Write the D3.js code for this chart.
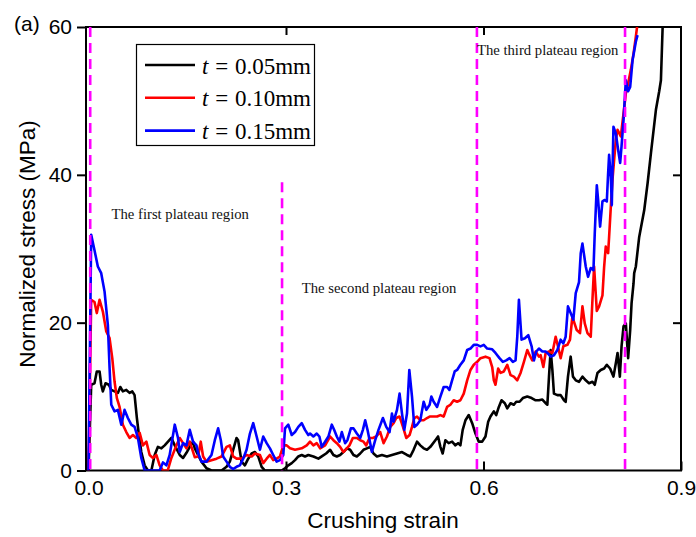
<!DOCTYPE html>
<html>
<head>
<meta charset="utf-8">
<script src="https://cdn.jsdelivr.net/npm/d3@7"></script>
<style>
  body { margin: 0; background: #fff; }
  svg { display: block; }
</style>
</head>
<body>
<div id="chart"></div>
<script>
// curves: [crushing strain, normalized stress (MPa)]
var t005 = [[0,0],[0.0041,11.6],[0.0091,11.8],[0.0126,13.4],[0.0168,13.4],[0.0193,11.6],[0.0218,10.7],[0.0259,11.8],[0.0309,11.6],[0.0346,10.9],[0.0396,10.7],[0.0446,10.5],[0.0483,11.3],[0.0522,10.7],[0.0574,10.9],[0.0624,10.5],[0.0665,10.7],[0.0700,10.2],[0.0735,7.1],[0.0766,4.8],[0.0802,2.5],[0.0853,0.7],[0.0903,0],[0.0955,0],[0.1005,2.1],[0.1055,3.2],[0.1107,3.0],[0.1157,3.4],[0.1208,3.9],[0.1259,4.4],[0.1310,3.4],[0.1386,2.1],[0.1436,1.7],[0.1488,2.4],[0.1538,3.2],[0.1588,3.9],[0.1614,3.0],[0.1664,2.1],[0.1716,1.2],[0.1792,0.3],[0.1868,0],[0.2021,0],[0.2097,0.5],[0.2147,1.2],[0.2197,2.8],[0.2249,4.4],[0.2273,4.1],[0.2325,1.2],[0.2375,0.7],[0.2426,1.6],[0.2478,2.3],[0.2528,2.5],[0.2578,1.9],[0.2630,0.5],[0.2680,0],[0.2934,0],[0.2985,0.3],[0.3035,0.7],[0.3087,1.0],[0.3137,1.4],[0.3187,1.9],[0.3239,2.1],[0.3289,1.9],[0.3339,2.1],[0.3416,1.9],[0.3492,1.6],[0.3543,1.9],[0.3609,2.3],[0.3670,2.8],[0.3720,2.1],[0.3772,1.9],[0.3822,2.1],[0.3872,2.5],[0.3924,3.0],[0.3974,2.8],[0.4025,2.1],[0.4076,1.9],[0.4127,2.3],[0.4177,2.8],[0.4229,3.0],[0.4279,3.2],[0.4329,2.3],[0.4381,1.9],[0.4457,2.1],[0.4533,1.9],[0.4609,2.1],[0.4686,2.3],[0.4762,2.5],[0.4838,2.1],[0.4888,1.9],[0.4938,2.8],[0.4990,3.9],[0.5040,3.4],[0.5091,3.0],[0.5142,2.8],[0.5193,3.2],[0.5269,4.1],[0.5310,4.6],[0.5345,3.2],[0.5380,2.3],[0.5421,4.1],[0.5471,3.7],[0.5523,3.9],[0.5573,3.4],[0.5614,3.7],[0.5649,3.4],[0.5684,5.5],[0.5726,6.8],[0.5776,7.5],[0.5828,6.4],[0.5878,5.0],[0.5928,3.9],[0.5980,3.9],[0.6030,4.6],[0.6071,6.6],[0.6106,7.3],[0.6157,8.0],[0.6193,7.5],[0.6233,8.6],[0.6274,9.5],[0.6324,9.1],[0.6361,8.4],[0.6411,9.1],[0.6461,8.9],[0.6497,9.3],[0.6548,9.3],[0.6598,9.8],[0.6665,10.0],[0.6731,9.8],[0.6792,9.5],[0.6842,9.5],[0.6894,9.6],[0.6944,9.1],[0.6970,8.9],[0.6995,12.7],[0.7020,16.3],[0.7046,13.6],[0.7070,10.4],[0.7122,10.2],[0.7172,10.2],[0.7223,9.5],[0.7248,9.3],[0.7283,12.7],[0.7324,15.4],[0.7359,12.7],[0.7401,12.2],[0.7451,12.0],[0.7503,12.7],[0.7553,12.2],[0.7603,11.8],[0.7655,12.0],[0.7690,11.6],[0.7731,13.2],[0.7781,13.6],[0.7832,13.8],[0.7873,14.3],[0.7923,13.8],[0.7974,12.7],[0.8010,14.5],[0.8036,15.9],[0.8071,12.7],[0.8097,16.8],[0.8127,19.5],[0.8162,19.9],[0.8197,15.2],[0.8228,19.0],[0.8249,22.6],[0.8279,25.3],[0.8289,26.7],[0.8314,27.6],[0.8365,31.6],[0.8441,35.2],[0.8493,38.9],[0.8543,42.9],[0.8619,48.8],[0.8669,51.3],[0.8695,52.8],[0.8721,60]];

var t010 = [[0,0],[0.0041,23.1],[0.0091,22.8],[0.0126,21.3],[0.0168,23.1],[0.0218,21.5],[0.0270,18.8],[0.0320,17.9],[0.0361,15.2],[0.0396,12.0],[0.0431,9.8],[0.0472,8.6],[0.0522,6.2],[0.0574,5.2],[0.0624,4.4],[0.0675,4.8],[0.0726,4.4],[0.0777,5.1],[0.0827,3.4],[0.0879,3.9],[0.0929,2.1],[0.0979,1.7],[0.1031,2.1],[0.1081,0.7],[0.1131,0],[0.1203,0],[0.1259,1.7],[0.1335,3.4],[0.1386,4.4],[0.1436,3.7],[0.1488,3.0],[0.1538,3.9],[0.1614,1.8],[0.1664,1.9],[0.1705,3.9],[0.1741,1.9],[0.1792,1.2],[0.1868,1.4],[0.1945,1.6],[0.2021,1.9],[0.2097,3.2],[0.2147,3.4],[0.2197,1.9],[0.2249,1.6],[0.2325,1.6],[0.2401,2.1],[0.2478,1.9],[0.2528,2.3],[0.2604,2.1],[0.2654,1.0],[0.2706,1.6],[0.2756,2.1],[0.2806,1.4],[0.2858,1.6],[0.2908,1.9],[0.2959,3.4],[0.3011,3.4],[0.3061,3.0],[0.3137,2.8],[0.3239,3.0],[0.3315,3.4],[0.3365,3.9],[0.3416,3.4],[0.3467,3.7],[0.3518,3.0],[0.3594,3.4],[0.3670,4.6],[0.3720,4.1],[0.3772,3.7],[0.3822,3.2],[0.3872,2.5],[0.3924,3.0],[0.3964,3.4],[0.4015,4.4],[0.4076,4.4],[0.4127,4.1],[0.4177,3.9],[0.4218,3.4],[0.4268,4.4],[0.4320,4.4],[0.4370,4.6],[0.4431,5.2],[0.4482,3.7],[0.4533,4.6],[0.4584,5.9],[0.4634,6.4],[0.4675,7.1],[0.4725,7.3],[0.4777,5.9],[0.4827,4.4],[0.4877,4.8],[0.4914,5.9],[0.4949,7.1],[0.4990,7.3],[0.5040,6.8],[0.5091,6.8],[0.5142,7.1],[0.5182,7.3],[0.5243,7.3],[0.5295,7.3],[0.5345,7.5],[0.5395,7.3],[0.5447,8.6],[0.5497,8.9],[0.5547,9.5],[0.5599,9.3],[0.5649,9.5],[0.5700,10.4],[0.5752,12.2],[0.5802,13.6],[0.5852,14.3],[0.5904,14.7],[0.5954,15.2],[0.6030,15.4],[0.6091,15.2],[0.6132,14.0],[0.6157,12.2],[0.6182,11.6],[0.6223,13.8],[0.6259,13.2],[0.6309,13.4],[0.6361,14.3],[0.6411,12.9],[0.6461,12.7],[0.6513,12.2],[0.6563,13.2],[0.6614,14.7],[0.6665,16.3],[0.6700,15.6],[0.6741,14.9],[0.6792,16.1],[0.6842,15.4],[0.6868,15.6],[0.6909,14.0],[0.6944,15.9],[0.6995,16.1],[0.7046,15.9],[0.7096,18.1],[0.7131,16.8],[0.7172,15.2],[0.7213,16.8],[0.7274,17.0],[0.7314,17.7],[0.7350,20.8],[0.7375,20.1],[0.7416,19.0],[0.7466,18.6],[0.7503,22.2],[0.7538,19.9],[0.7579,18.6],[0.7629,18.1],[0.7655,23.1],[0.7680,27.6],[0.7721,21.6],[0.7756,22.2],[0.7807,23.7],[0.7832,27.5],[0.7857,30.3],[0.7873,29.8],[0.7893,29.4],[0.7908,31.6],[0.7934,35.7],[0.7959,39.3],[0.7984,42.0],[0.8010,44.7],[0.8036,46.1],[0.8086,45.2],[0.8127,48.3],[0.8162,51.0],[0.8197,52.4],[0.8238,54.2],[0.8279,56.4],[0.8314,58.7],[0.8340,60.5]];

var t015 = [[0,0],[0.0041,31.9],[0.0091,29.8],[0.0142,27.6],[0.0193,26.7],[0.0244,24.2],[0.0294,19.7],[0.0320,13.9],[0.0346,8.9],[0.0396,8.0],[0.0446,8.2],[0.0498,6.2],[0.0548,8.2],[0.0598,7.1],[0.0650,6.2],[0.0700,5.9],[0.0751,4.4],[0.0802,1.7],[0.0853,0],[0.1081,0],[0.1131,1.1],[0.1183,0.7],[0.1233,2.1],[0.1310,6.2],[0.1360,4.4],[0.1386,2.5],[0.1436,3.7],[0.1488,3.4],[0.1538,5.5],[0.1588,3.9],[0.1640,3.4],[0.1664,2.4],[0.1716,1.2],[0.1792,1.2],[0.1868,2.1],[0.1919,4.1],[0.1969,5.7],[0.2010,4.1],[0.2045,1.9],[0.2097,1.2],[0.2147,0.5],[0.2197,0.2],[0.2249,0.5],[0.2299,0.7],[0.2350,1.6],[0.2401,2.8],[0.2452,5.0],[0.2502,6.4],[0.2554,4.6],[0.2604,2.8],[0.2654,4.6],[0.2706,3.7],[0.2756,3.0],[0.2806,2.1],[0.2858,1.2],[0.2908,1.4],[0.2959,2.1],[0.2985,5.7],[0.3035,6.2],[0.3087,4.8],[0.3137,5.2],[0.3187,5.9],[0.3239,6.4],[0.3289,5.5],[0.3339,4.8],[0.3365,5.0],[0.3416,4.6],[0.3467,5.0],[0.3507,4.6],[0.3543,3.2],[0.3594,3.9],[0.3644,4.6],[0.3696,6.2],[0.3731,5.5],[0.3772,4.6],[0.3811,3.9],[0.3848,5.2],[0.3898,3.7],[0.3933,4.1],[0.3985,5.7],[0.4025,5.7],[0.4076,5.0],[0.4127,4.4],[0.4168,5.5],[0.4203,6.8],[0.4238,5.5],[0.4279,3.7],[0.4305,2.5],[0.4355,4.1],[0.4405,5.5],[0.4472,7.1],[0.4523,5.9],[0.4573,5.2],[0.4609,7.7],[0.4634,6.6],[0.4686,8.2],[0.4725,10.4],[0.4762,7.7],[0.4797,5.5],[0.4838,7.7],[0.4873,13.6],[0.4914,10.0],[0.4949,5.9],[0.4990,6.2],[0.5040,6.8],[0.5091,9.3],[0.5132,8.2],[0.5182,8.9],[0.5208,10.0],[0.5243,9.3],[0.5295,8.6],[0.5345,10.0],[0.5395,11.3],[0.5447,11.3],[0.5482,10.9],[0.5523,12.2],[0.5563,13.4],[0.5599,13.6],[0.5649,14.3],[0.5700,14.9],[0.5752,16.3],[0.5802,16.5],[0.5852,17.0],[0.5904,17.0],[0.5954,16.8],[0.6004,17.0],[0.6056,16.5],[0.6132,16.4],[0.6182,15.9],[0.6243,15.2],[0.6294,14.7],[0.6345,14.9],[0.6396,15.2],[0.6446,14.7],[0.6487,14.9],[0.6513,18.1],[0.6538,23.1],[0.6578,17.7],[0.6629,17.9],[0.6680,18.3],[0.6731,16.8],[0.6766,14.9],[0.6802,16.1],[0.6842,16.5],[0.6894,16.1],[0.6944,16.1],[0.6970,15.9],[0.7020,15.4],[0.7070,15.6],[0.7122,16.3],[0.7172,17.7],[0.7213,17.2],[0.7248,18.1],[0.7283,22.2],[0.7324,21.3],[0.7365,20.4],[0.7401,24.0],[0.7451,25.5],[0.7477,29.4],[0.7503,30.7],[0.7553,27.6],[0.7588,26.2],[0.7629,27.4],[0.7670,27.1],[0.7690,32.1],[0.7721,38.6],[0.7741,36.6],[0.7771,33.0],[0.7807,36.4],[0.7842,36.6],[0.7873,36.4],[0.7893,40.2],[0.7908,42.7],[0.7934,39.7],[0.7949,35.9],[0.7974,46.5],[0.8010,45.6],[0.8045,43.4],[0.8076,41.6],[0.8097,43.9],[0.8127,47.4],[0.8162,52.8],[0.8197,51.3],[0.8228,51.9],[0.8264,55.5],[0.8314,58.0],[0.8340,58.9]];

var series_names = ['0.05mm', '0.10mm', '0.15mm'];
var series_colors = ['#000000', '#ff0000', '#0000ff'];
var series_data = [t005, t010, t015];

// dashed boundaries between plateau regions (strain, stress where the line starts)
var region_strain = [0.0026, 0.294, 0.590, 0.815];
var region_top = [60, 39, 60, 60];

var region_labels = ['The first plateau region', 'The second plateau region', 'The third plateau region'];
var label_strain = [0.035, 0.324, 0.590];
var label_stress = [34.0, 24.0, 56.2];

var x_ticks = [0, 0.3, 0.6, 0.9];
var y_ticks = [0, 20, 40, 60];

// layout
/////////////////////
var svg_width = 696;
var svg_height = 537;
var plot_left = 86, plot_right = 681, plot_top = 27, plot_bottom = 470.5;

var sans = "'Liberation Sans', Arial, Helvetica, sans-serif";
var serif = "'Liberation Serif', 'Times New Roman', Times, serif";

var x = d3.scaleLinear().domain([-0.0038, 0.9]).range([plot_left, plot_right]);
var y = d3.scaleLinear().domain([0, 60]).range([plot_bottom, plot_top]);

var main_svg = d3.select('#chart')
  .append('svg')
  .attr('width', svg_width)
  .attr('height', svg_height);

main_svg.append('clipPath')
  .attr('id', 'plot-clip')
  .append('rect')
  .attr('x', plot_left)
  .attr('y', plot_top)
  .attr('width', plot_right - plot_left)
  .attr('height', plot_bottom - plot_top);

// axes
/////////////////////
main_svg.append('g')
  .attr('transform', 'translate(0,' + plot_bottom + ')')
  .call(d3.axisBottom(x).tickValues(x_ticks).tickFormat(d3.format('.1f'))
    .tickSize(-9).tickSizeOuter(0).tickPadding(10));

main_svg.append('g')
  .attr('transform', 'translate(' + plot_left + ',0)')
  .call(d3.axisLeft(y).tickValues(y_ticks).tickFormat(d3.format('d'))
    .tickSize(9).tickSizeOuter(0).tickPadding(5));

main_svg.append('g')
  .attr('transform', 'translate(0,' + plot_top + ')')
  .call(d3.axisTop(x).tickValues([0.3, 0.6]).tickFormat('')
    .tickSize(-8).tickSizeOuter(0));

main_svg.append('g')
  .attr('transform', 'translate(' + plot_right + ',0)')
  .call(d3.axisRight(y).tickValues([20, 40]).tickFormat('')
    .tickSize(-8).tickSizeOuter(0));

main_svg.selectAll('.domain').remove();
main_svg.selectAll('.tick line')
  .attr('stroke', '#000')
  .attr('stroke-width', 2);
main_svg.selectAll('.tick text')
  .attr('fill', '#000')
  .style('font-family', sans)
  .style('font-size', '21px');

// frame
main_svg.append('rect')
  .attr('x', plot_left)
  .attr('y', plot_top)
  .attr('width', plot_right - plot_left)
  .attr('height', plot_bottom - plot_top)
  .attr('fill', 'none')
  .attr('stroke', '#000')
  .attr('stroke-width', 2);

// curves
/////////////////////
var line = d3.line()
  .x(function(d){ return x(d[0]); })
  .y(function(d){ return y(d[1]); });

var curves = main_svg.append('g').attr('clip-path', 'url(#plot-clip)');

series_data.forEach(function(inst_data, i){
  curves.append('path')
    .datum(inst_data)
    .attr('d', line)
    .attr('fill', 'none')
    .attr('stroke', series_colors[i])
    .attr('stroke-width', 2.6)
    .attr('stroke-linejoin', 'round');
});

// region boundaries
region_strain.forEach(function(inst_strain, i){
  main_svg.append('line')
    .attr('x1', x(inst_strain))
    .attr('x2', x(inst_strain))
    .attr('y1', y(region_top[i]))
    .attr('y2', y(0))
    .attr('stroke', '#ff00ff')
    .attr('stroke-width', 2.6)
    .attr('stroke-dasharray', '10,6');
});

region_labels.forEach(function(inst_label, i){
  main_svg.append('text')
    .attr('x', x(label_strain[i]))
    .attr('y', y(label_stress[i]))
    .style('font-family', serif)
    .style('font-size', '14.7px')
    .attr('fill', '#111')
    .text(inst_label);
});

// legend
/////////////////////
var legend = main_svg.append('g');

legend.append('rect')
  .attr('x', 136.5)
  .attr('y', 44.5)
  .attr('width', 178)
  .attr('height', 101)
  .attr('fill', '#fff')
  .attr('stroke', '#000')
  .attr('stroke-width', 1.2);

series_names.forEach(function(inst_name, i){
  var row_y = 65 + i * 32.8;
  legend.append('line')
    .attr('x1', 145)
    .attr('x2', 195)
    .attr('y1', row_y)
    .attr('y2', row_y)
    .attr('stroke', series_colors[i])
    .attr('stroke-width', 2.6);

  var inst_text = legend.append('text')
    .attr('x', 202)
    .attr('y', row_y + 8.5)
    .style('font-family', serif)
    .style('font-size', '23px')
    .attr('fill', '#000');
  inst_text.append('tspan').style('font-style', 'italic').text('t');
  inst_text.append('tspan').attr('dx', 1).text(' = ');
  inst_text.append('tspan').attr('dx', 1).text(inst_name);
});

// titles
/////////////////////
main_svg.append('text')
  .attr('x', 383)
  .attr('y', 528)
  .attr('text-anchor', 'middle')
  .style('font-family', sans)
  .style('font-size', '22.5px')
  .text('Crushing strain');

main_svg.append('text')
  .attr('transform', 'translate(35,244) rotate(-90)')
  .attr('text-anchor', 'middle')
  .style('font-family', sans)
  .style('font-size', '22.5px')
  .text('Normalized stress (MPa)');

main_svg.append('text')
  .attr('x', 14)
  .attr('y', 31)
  .style('font-family', sans)
  .style('font-size', '21px')
  .text('(a)');
</script>
</body>
</html>
